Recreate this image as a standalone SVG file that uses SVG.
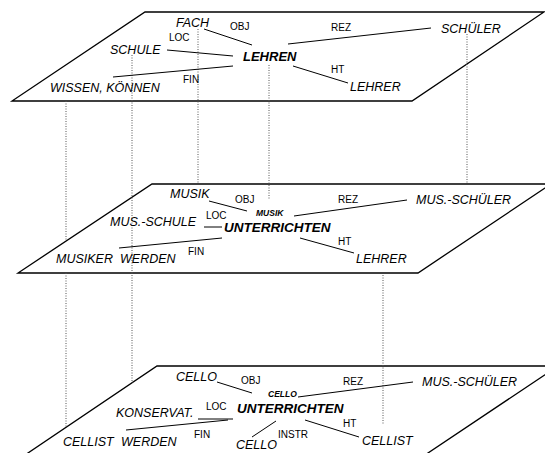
<svg xmlns="http://www.w3.org/2000/svg" width="545" height="453" viewBox="0 0 545 453">
  <style>
    .plane { fill: #ffffff; stroke: #000000; stroke-width: 1.3; stroke-linejoin: miter; }
    .rel { stroke: #000000; stroke-width: 1; fill: none; }
    .link { stroke: #555555; stroke-width: 1; stroke-dasharray: 1 1.5; fill: none; }
    text { font-family: "Liberation Sans", Arial, sans-serif; fill: #000000; }
    .n { font-size: 12.5px; font-style: italic; }
    .head { font-size: 13.5px; font-style: italic; font-weight: bold; }
    .sub { font-size: 8.5px; font-style: italic; font-weight: bold; }
    .lab { font-size: 10px; }
  </style>

  <!-- planes -->
  <polygon id="plane-top" class="plane" points="145,12 544,12 412,101 12,101"/>
  <polygon id="plane-mid" class="plane" points="152,184 551,184 418,273 18,273"/>
  <polygon id="plane-bottom" class="plane" points="157,366 558,366 425,455 25,455"/>

  <!-- dotted correspondences between planes -->
  <g id="links">
    <line class="link" x1="66" y1="101" x2="66" y2="241"/>
    <line class="link" x1="66" y1="273" x2="66" y2="428"/>
    <line class="link" x1="132" y1="55" x2="132" y2="383"/>
    <line class="link" x1="198" y1="29" x2="198" y2="184"/>
    <line class="link" x1="269" y1="65" x2="269" y2="199"/>
    <line class="link" x1="467" y1="34" x2="467" y2="184"/>
    <line class="link" x1="383" y1="275" x2="383" y2="425"/>
  </g>

  <!-- relation lines -->
  <g id="connectors">
    <!-- top plane -->
    <line class="rel" x1="204" y1="29" x2="252" y2="45"/>
    <line class="rel" x1="167" y1="50" x2="233" y2="56"/>
    <line class="rel" x1="113" y1="77" x2="233" y2="66"/>
    <line class="rel" x1="288" y1="44" x2="431" y2="28"/>
    <line class="rel" x1="293" y1="66" x2="348" y2="83"/>
    <!-- middle plane -->
    <line class="rel" x1="209" y1="201" x2="247" y2="211"/>
    <line class="rel" x1="204" y1="227" x2="222" y2="227"/>
    <line class="rel" x1="119" y1="248" x2="222" y2="238"/>
    <line class="rel" x1="294" y1="216" x2="407" y2="200"/>
    <line class="rel" x1="300" y1="238" x2="354" y2="253"/>
    <!-- bottom plane -->
    <line class="rel" x1="217" y1="382" x2="252" y2="393"/>
    <line class="rel" x1="298" y1="397" x2="413" y2="382"/>
    <line class="rel" x1="198" y1="419" x2="233" y2="419"/>
    <line class="rel" x1="126" y1="430" x2="228" y2="420"/>
    <line class="rel" x1="252" y1="437" x2="276" y2="421"/>
    <line class="rel" x1="305" y1="420" x2="359" y2="437"/>
  </g>

  <!-- top plane: LEHREN -->
  <g id="top-nodes">
    <g id="lehren"><text class="head" x="243" y="61" style="font-size:13px">LEHREN</text></g>
    <g id="fach"><text class="n" x="176" y="27">FACH</text></g>
    <g id="schule"><text class="n" x="110" y="54">SCHULE</text></g>
    <g id="wissen"><text class="n" x="50" y="92">WISSEN, KÖNNEN</text></g>
    <g id="schueler"><text class="n" x="441" y="33">SCHÜLER</text></g>
    <g id="lehrer-top"><text class="n" x="350" y="91">LEHRER</text></g>
    <text class="lab" x="230" y="30">OBJ</text>
    <text class="lab" x="169" y="41">LOC</text>
    <text class="lab" x="183" y="83">FIN</text>
    <text class="lab" x="331" y="31">REZ</text>
    <text class="lab" x="331" y="73">HT</text>
  </g>

  <!-- middle plane: MUSIK UNTERRICHTEN -->
  <g id="mid-nodes">
    <g id="unterrichten-mid"><text class="head" x="224" y="232">UNTERRICHTEN</text></g>
    <g id="musik-sub"><text class="sub" x="256" y="216">MUSIK</text></g>
    <g id="musik"><text class="n" x="170" y="198">MUSIK</text></g>
    <g id="mus-schule"><text class="n" x="110" y="226">MUS.-SCHULE</text></g>
    <g id="musiker-werden"><text class="n" x="56" y="263">MUSIKER<tspan x="120">WERDEN</tspan></text></g>
    <g id="mus-schueler-mid"><text class="n" x="416" y="204">MUS.-SCHÜLER</text></g>
    <g id="lehrer-mid"><text class="n" x="356" y="263">LEHRER</text></g>
    <text class="lab" x="235" y="203">OBJ</text>
    <text class="lab" x="206" y="219">LOC</text>
    <text class="lab" x="188" y="255">FIN</text>
    <text class="lab" x="338" y="203">REZ</text>
    <text class="lab" x="338" y="245">HT</text>
  </g>

  <!-- bottom plane: CELLO UNTERRICHTEN -->
  <g id="bottom-nodes">
    <g id="unterrichten-bottom"><text class="head" x="237" y="413">UNTERRICHTEN</text></g>
    <g id="cello-sub"><text class="sub" x="268" y="397">CELLO</text></g>
    <g id="cello-obj"><text class="n" x="176" y="381">CELLO</text></g>
    <g id="konservat"><text class="n" x="116" y="417">KONSERVAT.</text></g>
    <g id="cellist-werden"><text class="n" x="63" y="446">CELLIST<tspan x="121">WERDEN</tspan></text></g>
    <g id="cello-instr"><text class="n" x="236" y="449">CELLO</text></g>
    <g id="mus-schueler-bottom"><text class="n" x="422" y="386">MUS.-SCHÜLER</text></g>
    <g id="cellist"><text class="n" x="362" y="445">CELLIST</text></g>
    <text class="lab" x="241" y="384">OBJ</text>
    <text class="lab" x="206" y="410">LOC</text>
    <text class="lab" x="194" y="438">FIN</text>
    <text class="lab" x="278" y="438">INSTR</text>
    <text class="lab" x="343" y="385">REZ</text>
    <text class="lab" x="343" y="427">HT</text>
  </g>
</svg>
